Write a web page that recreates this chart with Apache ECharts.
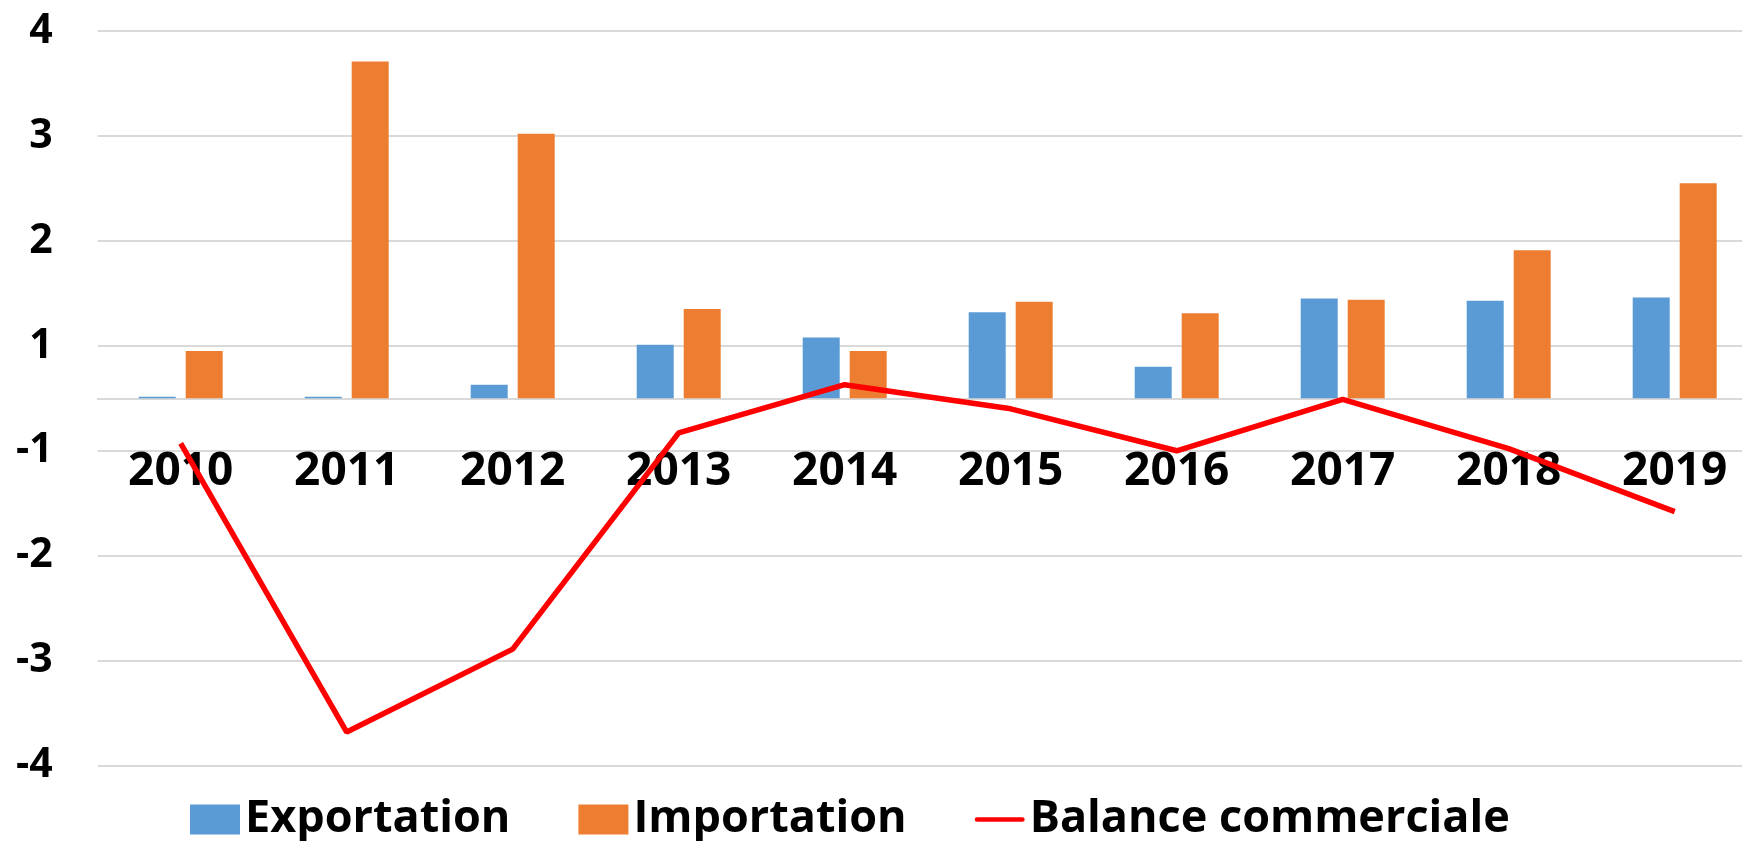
<!DOCTYPE html>
<html>
<head>
<meta charset="utf-8">
<script src="https://cdn.jsdelivr.net/npm/echarts@6/dist/echarts.min.js"></script>
<style>
html,body{margin:0;padding:0;background:#fff;overflow:hidden;}
/* the plot area of the original runs slightly past the right edge of the picture */
#chart{width:1762px;height:841px;}
</style>
</head>
<body>
<div id="chart"></div>
<script>
const categories = ['2010','2011','2012','2013','2014','2015','2016','2017','2018','2019'];
const exportation = [0.015, 0.015, 0.13, 0.51, 0.58, 0.82, 0.30, 0.95, 0.93, 0.96];
const importation = [0.45, 3.21, 2.52, 0.85, 0.45, 0.92, 0.81, 0.94, 1.41, 2.05];
const balance = [-0.43, -3.18, -2.39, -0.33, 0.13, -0.10, -0.50, -0.01, -0.48, -1.08];
const seriesNames = ['Exportation', 'Importation', 'Balance commerciale'];
// Excel-style axis: gridlines at half values, labels rounded away from zero
const yTickValues = [-3.5, -2.5, -1.5, -0.5, 0.5, 1.5, 2.5, 3.5];
const yTickLabels = ['-4', '-3', '-2', '-1', '1', '2', '3', '4'];

const FONT = 'Open Sans';
const GRID_TOP = 31, GRID_H = 734.6, Y_MIN = -3.5, Y_MAX = 3.5;
// distance from bottom of grid up to the value 0 (category axis crosses at 0)
const zeroOffset = GRID_H * (0 - Y_MIN) / (Y_MAX - Y_MIN);

const chart = echarts.init(document.getElementById('chart'), null, {renderer: 'canvas'});
chart.setOption({
  animation: false,
  backgroundColor: '#ffffff',
  grid: {left: 97.7, top: GRID_TOP, width: 1660, height: GRID_H, containLabel: false},
  legend: {
    data: [
      {name: seriesNames[0], icon: 'rect'},
      {name: seriesNames[1], icon: 'rect'},
      {name: seriesNames[2], icon: 'path://M0,0 M52,30 M2,12.5 L50,12.5 A2.5,2.5 0 0 1 50,17.5 L2,17.5 A2.5,2.5 0 0 1 2,12.5 Z'}
    ],
    left: 190, top: 797,
    padding: 0,
    itemWidth: 50, itemHeight: 30,
    itemGap: 68,
    textStyle: {fontFamily: FONT, fontWeight: 'bold', fontSize: 45, color: '#000'}
  },
  xAxis: {
    type: 'category',
    data: categories,
    offset: -zeroOffset,
    axisLine: {onZero: false, lineStyle: {color: '#d9d9d9', width: 2}},
    axisTick: {show: false},
    axisLabel: {margin: 51, fontFamily: FONT, fontWeight: 'bold', fontSize: 46, color: '#000'},
    splitLine: {show: false}
  },
  yAxis: {
    type: 'value',
    min: Y_MIN, max: Y_MAX, interval: 0.5,
    axisLine: {show: false},
    axisTick: {show: false},
    axisLabel: {
      margin: 45, fontFamily: FONT, fontWeight: 'bold', fontSize: 41, color: '#000',
      showMinLabel: true, showMaxLabel: true,
      formatter: function (v) {
        for (let i = 0; i < yTickValues.length; i++) {
          if (Math.abs(v - yTickValues[i]) < 1e-6) return yTickLabels[i];
        }
        return '';
      }
    },
    splitLine: {show: true, lineStyle: {color: ['#d9d9d9', 'rgba(0,0,0,0)'], width: 2}}
  },
  series: [
    {name: seriesNames[0], type: 'bar', data: exportation, barWidth: 37, barGap: '27%',
     itemStyle: {color: '#5B9BD5'}},
    {name: seriesNames[1], type: 'bar', data: importation, barWidth: 37, barGap: '27%',
     itemStyle: {color: '#ED7D31'}},
    {name: seriesNames[2], type: 'line', data: balance, symbol: 'none',
     lineStyle: {color: '#FF0000', width: 5.5}, itemStyle: {color: '#FF0000'}, z: 5}
  ]
});
</script>
</body>
</html>
